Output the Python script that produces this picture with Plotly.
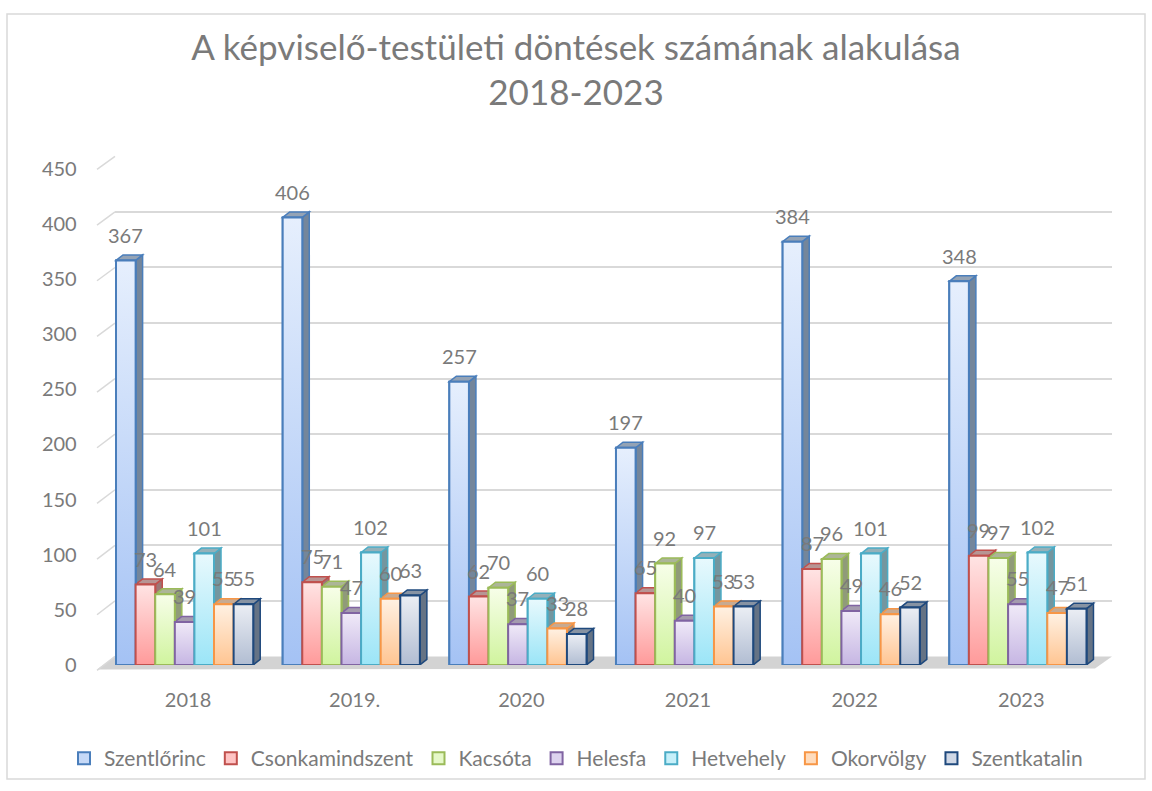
import plotly.graph_objects as go

# ---------------- data ----------------
categories = ["2018", "2019.", "2020", "2021", "2022", "2023"]
series_names = ["Szentlőrinc", "Csonkamindszent", "Kacsóta", "Helesfa",
                "Hetvehely", "Okorvölgy", "Szentkatalin"]
szentlorinc = [367, 406, 257, 197, 384, 348]
csonkamindszent = [73, 75, 62, 65, 87, 99]
kacsota = [64, 71, 70, 92, 96, 97]
helesfa = [39, 47, 37, 40, 49, 55]
hetvehely = [101, 102, 60, 97, 101, 102]
okorvolgy = [55, 60, 33, 53, 46, 47]
szentkatalin = [55, 63, 28, 53, 52, 51]
y_ticks = [0, 50, 100, 150, 200, 250, 300, 350, 400, 450]
title_text = "A képviselő-testületi döntések számának alakulása<br>2018-2023"

series_values = [szentlorinc, csonkamindszent, kacsota, helesfa,
                 hetvehely, okorvolgy, szentkatalin]

# ---------------- styles ----------------
W, H = 1152, 791
FONT = "Lato"
TXT = "#7a7a7a"
fills = ["#c6d9f7", "#ffc4c4", "#e6f8c9", "#ddd3ef", "#c7f0fa", "#ffdcbd", "#d0d8e6"]
grad_top = ["#e6effd", "#ffe4e4", "#f7fee9", "#f0eaf8", "#e8f9fd", "#fff1e3", "#ebeef4"]
grad_bot = ["#a4c2f4", "#ff9a9a", "#d0f49e", "#c6b6e3", "#9be5f7", "#ffc592", "#b1bdd2"]
lines = ["#4a7ebb", "#c0504d", "#9bbb59", "#8064a2", "#4bacc6", "#f79646", "#1f497d"]


def blend(c1, c2, t):
    a = [int(c1[i:i + 2], 16) for i in (1, 3, 5)]
    b = [int(c2[i:i + 2], 16) for i in (1, 3, 5)]
    return "#" + "".join(f"{round(a[k] * t + b[k] * (1 - t)):02x}" for k in range(3))


sides = [blend(c, "#8a8a8a", 0.35) for c in lines]
tops = [blend(c, "#b3b3b3", 0.3) for c in lines]

# vertical calibration of the rendered page (observed: out = S*y + OFF)
S, OFF = 0.9677, 12.9


def Y(t):
    """layout pixel (from top) that lands on target pixel t"""
    return (t - OFF) / S


def fx(p):
    return p / W


def fy(p):
    return 1 - p / H


# front plane (bars) pixel geometry (targets)
FX0, FX1 = 104.7, 1104.6
FY0, FY450 = 663.5, 168.5
# back wall geometry (targets)
BX0, BX1 = 115, 1112
BY0, BY450 = 655, 156

ux = (FX1 - FX0) / len(categories)   # px per category unit
uy = (FY0 - FY450) / 450.0           # px per value unit
bar_w = 19.6 / ux
start = -72.0 / ux
dx = 7.0 / ux
dy = 5.5 / uy

fig = go.Figure()

# invisible trace to create back-wall subplot (gridlines)
fig.add_trace(go.Scatter(x=[0], y=[0], xaxis="x", yaxis="y", mode="markers",
                         marker=dict(opacity=0), showlegend=False, hoverinfo="skip"))

xs = list(range(len(categories)))
shapes = []
annotations = []
for i, (name, vals) in enumerate(zip(series_names, series_values)):
    off = start + i * bar_w
    fig.add_trace(go.Bar(
        x=xs, y=vals, name=name, xaxis="x2", yaxis="y2",
        offset=off, width=bar_w,
        marker=dict(color=fills[i], line=dict(color=lines[i], width=2)),
        hovertemplate=name + " %{y}<extra></extra>",
    ))
    for j, v in enumerate(vals):
        x0 = j + off
        x1 = x0 + bar_w
        # gradient front face drawn over the bar
        fig.add_trace(go.Scatter(
            x=[x0, x1, x1, x0, x0], y=[0, 0, v, v, 0], xaxis="x2", yaxis="y2",
            mode="lines", fill="toself",
            fillgradient=dict(type="vertical",
                              colorscale=[[0, grad_bot[i]], [1, grad_top[i]]]),
            line=dict(color=lines[i], width=2),
            showlegend=False, hoverinfo="skip"))
        # side face
        shapes.append(dict(
            type="path", xref="x2", yref="y2", layer="between",
            path=f"M{x1},0 L{x1 + dx},{dy} L{x1 + dx},{v + dy} L{x1},{v} Z",
            fillcolor=sides[i], line=dict(color=lines[i], width=1.5)))
        # top face
        shapes.append(dict(
            type="path", xref="x2", yref="y2", layer="between",
            path=f"M{x0},{v} L{x0 + dx},{v + dy} L{x1 + dx},{v + dy} L{x1},{v} Z",
            fillcolor=tops[i], line=dict(color=lines[i], width=1.5)))
        annotations.append(dict(
            x=x0 + bar_w / 2, y=v, xref="x2", yref="y2", text=str(v),
            showarrow=False, yshift=25 / S, yanchor="middle",
            font=dict(family=FONT, size=20, color=TXT)))

# floor
shapes.append(dict(type="path", xref="paper", yref="paper", layer="below",
                   path=f"M{fx(97)},{fy(Y(668))} L{fx(BX0)},{fy(Y(BY0))} "
                        f"L{fx(BX1)},{fy(Y(BY0))} L{fx(1095)},{fy(Y(667))} Z",
                   fillcolor="#d3d3d3", line=dict(width=0)))
# slanted left-wall gridline segments
for t in y_ticks:
    y_start = 669 - t * (669 - 169) / 450.0
    y_end = BY0 - t * (BY0 - BY450) / 450.0
    shapes.append(dict(type="line", xref="paper", yref="paper", layer="below",
                       x0=fx(97), y0=fy(Y(y_start)), x1=fx(BX0), y1=fy(Y(y_end)),
                       line=dict(color="#d9d9d9", width=1.5)))
# outer border
shapes.append(dict(type="rect", xref="paper", yref="paper", layer="below",
                   x0=fx(7), y0=fy(1), x1=fx(1145), y1=fy(790),
                   line=dict(color="#d9d9d9", width=1.5), fillcolor="rgba(0,0,0,0)"))

fig.update_layout(
    width=W, height=H,
    margin=dict(l=0, r=0, t=0, b=0),
    paper_bgcolor="white", plot_bgcolor="rgba(0,0,0,0)",
    barmode="overlay",
    font=dict(family=FONT, color=TXT, size=20),
    title=dict(text=title_text, x=0.5, xanchor="center", y=fy(Y(70.5)), yanchor="middle",
               font=dict(family=FONT, size=35, color=TXT)),
    showlegend=True,
    legend=dict(orientation="h", x=0.5, xanchor="center", y=fy(Y(757)), yanchor="middle",
                font=dict(family=FONT, size=21, color=TXT), bgcolor="rgba(0,0,0,0)"),
    xaxis=dict(domain=[fx(BX0), fx(BX1)], range=[0, 1], showgrid=False, zeroline=False,
               showticklabels=False, showline=False, fixedrange=True),
    yaxis=dict(domain=[fy(Y(BY0)), fy(Y(BY450))], range=[0, 450], tickvals=y_ticks,
               showgrid=True, gridcolor="#d9d9d9", gridwidth=1.5, zeroline=False,
               showticklabels=False, showline=False, fixedrange=True),
    xaxis2=dict(domain=[fx(FX0), fx(FX1)], range=[-0.5, len(categories) - 0.5],
                anchor="y2", tickvals=xs, ticktext=categories, showgrid=False,
                zeroline=False, showline=False, ticks="outside", ticklen=17,
                tickcolor="rgba(0,0,0,0)", tickfont=dict(family=FONT, size=20, color=TXT)),
    yaxis2=dict(domain=[fy(Y(FY0)), fy(Y(FY450))], range=[0, 450], anchor="x2",
                tickvals=y_ticks, showgrid=False, zeroline=False, showline=False,
                ticks="outside", ticklen=23, tickcolor="rgba(0,0,0,0)",
                tickfont=dict(family=FONT, size=20, color=TXT)),
    shapes=shapes,
    annotations=annotations,
)

fig.write_html("out.html")
